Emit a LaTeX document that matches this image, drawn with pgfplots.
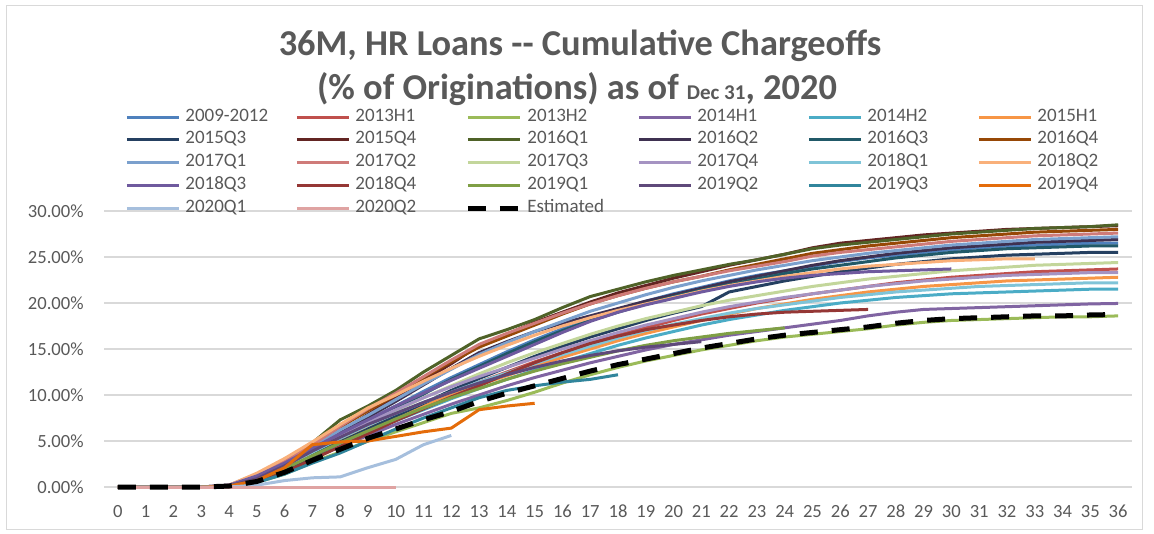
\documentclass[border=0pt]{standalone}
\usepackage{pgfplots}
\pgfplotsset{compat=1.18}
\usepackage{fontspec}
\setmainfont{Carlito}
\definecolor{txt}{HTML}{595959}
\definecolor{gridc}{HTML}{D9D9D9}
\definecolor{c1}{HTML}{4F81BD}
\definecolor{c2}{HTML}{C0504D}
\definecolor{c3}{HTML}{9BBB59}
\definecolor{c4}{HTML}{8064A2}
\definecolor{c5}{HTML}{4BACC6}
\definecolor{c6}{HTML}{F79646}
\definecolor{c7}{HTML}{254061}
\definecolor{c8}{HTML}{632523}
\definecolor{c9}{HTML}{4F6228}
\definecolor{c10}{HTML}{3F3151}
\definecolor{c11}{HTML}{215968}
\definecolor{c12}{HTML}{974806}
\definecolor{c13}{HTML}{7BA0CD}
\definecolor{c14}{HTML}{CF7B79}
\definecolor{c15}{HTML}{C3D69B}
\definecolor{c16}{HTML}{A593C2}
\definecolor{c17}{HTML}{7FC4D8}
\definecolor{c18}{HTML}{F9B07A}
\definecolor{c19}{HTML}{6F5A9E}
\definecolor{c20}{HTML}{953735}
\definecolor{c21}{HTML}{7F9F45}
\definecolor{c22}{HTML}{5F497A}
\definecolor{c23}{HTML}{31859C}
\definecolor{c24}{HTML}{E46C0A}
\definecolor{c25}{HTML}{A6BFDD}
\definecolor{c26}{HTML}{DFA3A2}
\pgfkeys{/pgfplots/table/tb/.style={/pgfplots/table/x expr=\coordindex, /pgfplots/table/y index=0, /pgfplots/table/header=false, /pgfplots/table/row sep=\\}}
\begin{document}
\begin{tikzpicture}
\useasboundingbox (0,0) rectangle (577pt,267pt);
\draw[gridc, line width=0.5pt] (3pt,2pt) rectangle (571pt,264pt);
\node[anchor=base, text=txt, font=\fontsize{18.2}{21}\selectfont\bfseries] at (290pt,239pt) {36M, HR Loans -{}- Cumulative Chargeoffs};
\node[anchor=base, text=txt, font=\fontsize{18.2}{21}\selectfont\bfseries] at (288.5pt,217pt) {(\% of Originations) as of {\fontsize{10.5}{12}\selectfont Dec 31}, 2020};
\begin{axis}[
  at={(52pt,23.5pt)}, anchor=south west,
  scale only axis, width=514pt, height=138pt,
  xmin=-0.5, xmax=36.5, ymin=0, ymax=30,
  xtick={0,...,36},
  ytick={0,5,...,30},
  yticklabels={0.00\%,5.00\%,10.00\%,15.00\%,20.00\%,25.00\%,30.00\%},
  ymajorgrids, grid style={gridc, line width=0.75pt},
  axis line style={draw=none},
  major tick length=0pt,
  /pgf/number format/assume math mode=true,
  tick label style={font=\fontsize{9.3}{11}\selectfont, text=txt},
  yticklabel style={inner sep=0pt, xshift=-10pt},
  xticklabel style={inner sep=0pt, anchor=base, yshift=-15pt},
  clip=false,
  legend columns=6,
  legend cell align=left,
  legend style={at={(0.0204,1.3707)}, anchor=north west, draw=none, fill=none,
    inner xsep=0pt, inner ysep=0pt, row sep=3.45pt,
    font=\fontsize{9.5}{11}\selectfont, text=txt,
    nodes={inner sep=0pt, font=\fontsize{9.5}{11}\selectfont, text height=6pt, text depth=2pt, text width=55pt, align=left, text=txt},
    /tikz/every odd column/.append style={column sep=2.5pt}},
  legend image code/.code={\draw[#1] (0pt,0pt) -- (26pt,0pt);},
  every axis plot/.append style={line width=1.5pt, line join=round},
]
\addplot[c1] table[tb] {0\\0\\0\\0\\0.2\\1.4\\2.7\\4.3\\5.8\\7.3\\8.8\\10.4\\11.9\\13.3\\14.7\\16.0\\17.2\\18.3\\19.3\\20.2\\21.0\\21.7\\22.4\\23.0\\23.5\\24.0\\24.5\\24.9\\25.2\\25.5\\25.8\\26.0\\26.2\\26.3\\26.4\\26.5\\26.5\\};
\addlegendentry{2009-2012}
\addplot[c2] table[tb] {0\\0\\0\\0\\0.1\\0.7\\1.9\\3.4\\4.9\\6.3\\7.6\\8.9\\10.2\\11.4\\12.5\\13.6\\14.6\\15.6\\16.5\\17.3\\18.1\\18.8\\19.4\\20.0\\20.5\\21.0\\21.4\\21.8\\22.2\\22.5\\22.8\\23.0\\23.2\\23.4\\23.5\\23.6\\23.7\\};
\addlegendentry{2013H1}
\addplot[c3] table[tb] {0\\0\\0\\0\\0.1\\0.5\\1.4\\2.7\\3.8\\5.0\\6.0\\7.0\\8.0\\8.6\\9.4\\10.3\\11.3\\12.2\\13.0\\13.7\\14.3\\14.9\\15.4\\15.9\\16.3\\16.6\\16.9\\17.2\\17.6\\17.9\\18.1\\18.2\\18.3\\18.4\\18.5\\18.5\\18.6\\};
\addlegendentry{2013H2}
\addplot[c4] table[tb] {0\\0\\0\\0\\0.1\\0.7\\1.8\\3.1\\4.4\\5.6\\6.8\\7.9\\9.0\\10.0\\11.0\\11.9\\12.7\\13.5\\14.2\\14.9\\15.5\\16.0\\16.5\\16.9\\17.3\\17.7\\18.1\\18.6\\19.0\\19.3\\19.4\\19.5\\19.6\\19.7\\19.8\\19.9\\19.95\\};
\addlegendentry{2014H1}
\addplot[c5] table[tb] {0\\0\\0\\0\\0.1\\0.7\\1.8\\3.2\\4.6\\5.9\\7.2\\8.4\\9.6\\10.7\\11.7\\12.7\\13.6\\14.5\\15.4\\16.2\\16.9\\17.6\\18.2\\18.7\\19.2\\19.6\\20.0\\20.3\\20.6\\20.8\\21.0\\21.1\\21.2\\21.3\\21.4\\21.5\\21.5\\};
\addlegendentry{2014H2}
\addplot[c6] table[tb] {0\\0\\0\\0\\0.1\\0.8\\2.0\\3.5\\5.0\\6.4\\7.7\\8.9\\10.0\\11.1\\12.1\\13.1\\14.1\\15.0\\15.9\\16.7\\17.4\\18.1\\18.8\\19.4\\19.9\\20.4\\20.8\\21.2\\21.5\\21.8\\22.0\\22.2\\22.4\\22.5\\22.6\\22.7\\22.8\\};
\addlegendentry{2015H1}
\addplot[c7] table[tb] {0\\0\\0\\0\\0.1\\0.7\\1.8\\3.3\\4.9\\6.3\\7.7\\9.1\\10.5\\11.8\\13.0\\14.2\\15.3\\16.3\\17.2\\18.1\\18.9\\19.6\\21.2\\21.8\\22.4\\22.9\\23.4\\23.8\\24.2\\24.5\\24.8\\25.0\\25.2\\25.3\\25.4\\25.5\\25.5\\};
\addlegendentry{2015Q3}
\addplot[c8] table[tb] {0\\0\\0\\0\\0.1\\0.8\\2.0\\4.0\\6.0\\7.9\\9.8\\11.6\\13.4\\15.4\\16.6\\17.9\\19.0\\20.1\\21.1\\21.9\\22.7\\23.4\\24.1\\24.7\\25.3\\26.0\\26.5\\26.8\\27.1\\27.4\\27.6\\27.8\\28.0\\28.1\\28.2\\28.3\\28.4\\};
\addlegendentry{2015Q4}
\addplot[c9] table[tb] {0\\0\\0\\0\\0.1\\1.1\\2.6\\4.8\\7.3\\8.8\\10.5\\12.5\\14.3\\16.1\\17.1\\18.2\\19.5\\20.7\\21.5\\22.3\\23.0\\23.6\\24.2\\24.7\\25.3\\25.9\\26.3\\26.6\\26.9\\27.2\\27.5\\27.7\\27.9\\28.1\\28.2\\28.3\\28.5\\};
\addlegendentry{2016Q1}
\addplot[c10] table[tb] {0\\0\\0\\0\\0.1\\0.9\\2.2\\4.0\\5.9\\7.6\\9.3\\11.1\\12.9\\14.6\\15.8\\16.9\\17.8\\18.6\\19.4\\20.2\\20.9\\21.6\\22.3\\22.9\\23.5\\24.1\\24.6\\25.0\\25.4\\25.7\\26.0\\26.2\\26.4\\26.6\\26.7\\26.8\\26.9\\};
\addlegendentry{2016Q2}
\addplot[c11] table[tb] {0\\0\\0\\0\\0.1\\0.8\\2.0\\3.6\\5.3\\6.9\\8.5\\10.1\\11.7\\13.1\\14.5\\15.8\\17.0\\18.1\\19.0\\19.9\\20.7\\21.4\\22.0\\22.6\\23.2\\23.7\\24.1\\24.5\\24.9\\25.2\\25.5\\25.7\\25.9\\26.0\\26.1\\26.2\\26.2\\};
\addlegendentry{2016Q3}
\addplot[c12] table[tb] {0\\0\\0\\0\\0.1\\1.0\\2.4\\4.3\\6.5\\8.3\\10.0\\11.9\\13.6\\15.2\\16.4\\17.6\\18.8\\19.9\\20.8\\21.6\\22.3\\22.9\\23.6\\24.2\\24.8\\25.4\\25.8\\26.2\\26.5\\26.8\\27.1\\27.3\\27.5\\27.7\\27.8\\27.9\\28.0\\};
\addlegendentry{2016Q4}
\addplot[c13] table[tb] {0\\0\\0\\0\\0.2\\1.2\\2.6\\4.3\\6.2\\7.8\\9.5\\11.2\\12.8\\14.4\\15.7\\16.9\\18.0\\19.1\\20.0\\20.9\\21.7\\22.4\\23.0\\23.6\\24.1\\24.6\\25.0\\25.4\\25.7\\26.0\\26.3\\26.5\\26.7\\26.9\\27.0\\27.1\\27.2\\};
\addlegendentry{2017Q1}
\addplot[c14] table[tb] {0\\0\\0\\0\\0.2\\1.3\\2.8\\4.6\\6.6\\8.5\\10.2\\12.0\\13.8\\15.5\\16.7\\17.8\\18.9\\19.9\\20.8\\21.6\\22.3\\22.9\\23.5\\24.0\\24.5\\25.1\\25.5\\25.8\\26.1\\26.4\\26.7\\26.9\\27.1\\27.3\\27.4\\27.5\\27.6\\};
\addlegendentry{2017Q2}
\addplot[c15] table[tb] {0\\0\\0\\0\\0.1\\0.9\\2.2\\3.8\\5.4\\6.9\\8.3\\9.7\\11.0\\12.3\\13.5\\14.6\\15.6\\16.6\\17.5\\18.3\\19.0\\19.7\\20.3\\20.8\\21.3\\21.8\\22.2\\22.6\\22.9\\23.2\\23.5\\23.7\\23.9\\24.1\\24.2\\24.3\\24.4\\};
\addlegendentry{2017Q3}
\addplot[c16] table[tb] {0\\0\\0\\0\\0.2\\1.1\\2.4\\3.9\\5.5\\7.0\\8.4\\9.7\\10.9\\12.0\\13.0\\14.0\\15.0\\15.9\\16.8\\17.6\\18.3\\19.0\\19.6\\20.1\\20.6\\21.0\\21.4\\21.8\\22.1\\22.4\\22.6\\22.8\\23.0\\23.1\\23.2\\23.3\\23.3\\};
\addlegendentry{2017Q4}
\addplot[c17] table[tb] {0\\0\\0\\0\\0.1\\0.9\\2.2\\3.8\\5.3\\6.7\\8.0\\9.2\\10.3\\11.4\\12.4\\13.4\\14.4\\15.3\\16.2\\17.0\\17.7\\18.3\\18.9\\19.4\\19.8\\20.2\\20.6\\20.9\\21.2\\21.4\\21.6\\21.8\\21.9\\22.0\\22.1\\22.2\\22.2\\};
\addlegendentry{2018Q1}
\addplot[c18] table[tb] {0\\0\\0\\0\\0.2\\1.5\\3.1\\4.9\\6.8\\8.6\\10.0\\11.5\\12.9\\14.2\\15.4\\16.5\\17.5\\18.4\\19.2\\19.9\\20.6\\21.3\\21.9\\22.4\\22.9\\23.3\\23.7\\24.0\\24.2\\24.4\\24.6\\24.7\\24.8\\24.8\\};
\addlegendentry{2018Q2}
\addplot[c19] table[tb] {0\\0\\0\\0\\0.2\\1.2\\2.6\\4.2\\5.8\\7.3\\8.8\\10.2\\11.6\\12.9\\14.2\\15.5\\16.8\\18.0\\19.0\\19.8\\20.5\\21.2\\21.8\\22.3\\22.7\\23.0\\23.2\\23.4\\23.5\\23.6\\23.7\\};
\addlegendentry{2018Q3}
\addplot[c20] table[tb] {0\\0\\0\\0\\0.1\\0.6\\1.6\\3.0\\4.4\\5.8\\7.2\\8.5\\9.8\\11.0\\12.3\\13.5\\14.6\\15.6\\16.4\\17.1\\17.6\\18.1\\18.5\\18.8\\19.0\\19.1\\19.2\\19.3\\};
\addlegendentry{2018Q4}
\addplot[c21] table[tb] {0\\0\\0\\0\\0.1\\0.8\\2.0\\3.4\\4.8\\6.1\\7.4\\8.6\\9.7\\10.7\\11.7\\12.6\\13.4\\14.1\\14.8\\15.4\\15.9\\16.3\\16.7\\17.0\\17.3\\};
\addlegendentry{2019Q1}
\addplot[c22] table[tb] {0\\0\\0\\0\\0.1\\0.9\\2.3\\3.9\\5.4\\6.8\\8.0\\9.2\\10.3\\11.3\\12.2\\13.0\\13.7\\14.3\\14.8\\15.2\\15.5\\15.8\\};
\addlegendentry{2019Q2}
\addplot[c23] table[tb] {0\\0\\0\\0\\0.1\\0.5\\1.4\\2.6\\3.7\\5.0\\6.3\\7.5\\8.6\\9.7\\10.5\\11.0\\11.4\\11.7\\12.2\\};
\addlegendentry{2019Q3}
\addplot[c24] table[tb] {0\\0\\0\\0\\0.1\\0.7\\2.1\\4.6\\4.9\\5.0\\5.5\\6.0\\6.4\\8.4\\8.8\\9.1\\};
\addlegendentry{2019Q4}
\addplot[c25] table[tb] {0\\0\\0\\0\\0\\0.2\\0.7\\1.0\\1.1\\2.1\\3.0\\4.6\\5.6\\};
\addlegendentry{2020Q1}
\addplot[c26] table[tb] {0\\0\\0\\0\\0\\0\\0\\0\\0\\0\\0\\};
\addlegendentry{2020Q2}
\addplot[black, line width=2.5pt, dash pattern=on 9pt off 7pt] table[tb] {0\\0\\0\\0\\0.1\\0.6\\1.6\\2.9\\4.1\\5.3\\6.3\\7.3\\8.2\\9.3\\10.2\\11.0\\11.8\\12.6\\13.3\\13.9\\14.5\\15.1\\15.6\\16.1\\16.5\\16.8\\17.1\\17.4\\17.8\\18.1\\18.3\\18.4\\18.5\\18.6\\18.6\\18.7\\18.75\\};
\addlegendentry{Estimated}
\end{axis}
\end{tikzpicture}
\end{document}
